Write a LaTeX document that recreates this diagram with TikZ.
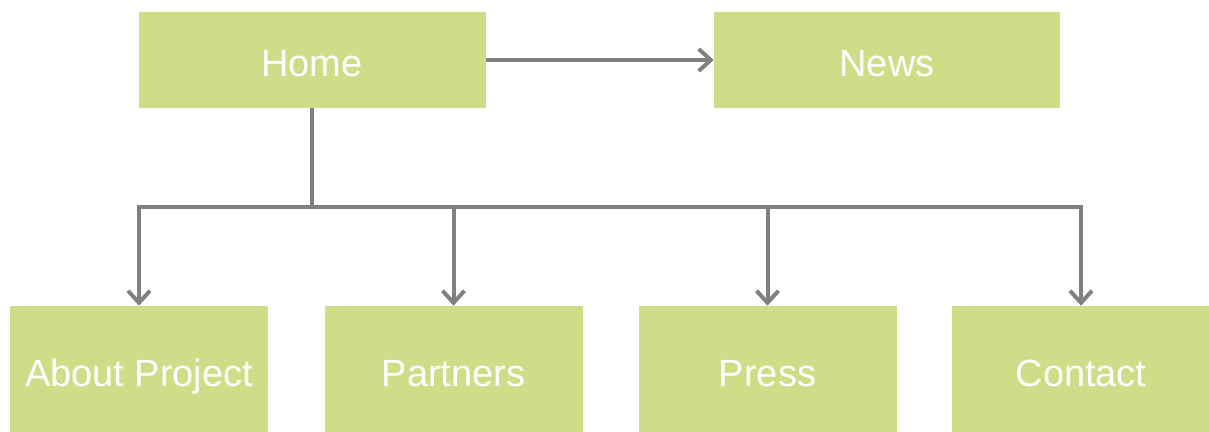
\documentclass[tikz,border=0pt]{standalone}
\usepackage{fontspec}
\setmainfont{Liberation Sans}
\usetikzlibrary{arrows.meta}
\definecolor{pagebox}{HTML}{CFDC88}
\definecolor{linkgray}{HTML}{808080}
\tikzset{>={Straight Barb[length=0.3cm, width=0.55cm, line width=0.1cm]}}
\tikzset{
  page/.style={fill=pagebox, draw=none, text=white, inner sep=0pt,
    font=\fontsize{27}{30}\selectfont, text height=0.85cm, text depth=0cm,
    minimum height=2.4cm},
  subpage/.style={page, minimum width=6.45cm, minimum height=3.15cm},
  link/.style={linkgray, line width=0.1cm}
}

\begin{document}
\begin{tikzpicture}
  \useasboundingbox (0, 0) rectangle (30.225, -10.8);
  \node[page, minimum width=8.675cm] (home) at (7.8, -1.5) {Home};
  \node[page, minimum width=8.65cm] (news) at (22.175, -1.5) {News};
  \node[subpage] (about) at (3.475, -9.225) {About Project};
  \node[subpage] (partners) at (11.3375, -9.225) {Partners};
  \node[subpage] (press) at (19.1875, -9.225) {Press};
  \node[subpage] (contact) at (27.025, -9.225) {Contact};
  \coordinate (bus) at (7.8, -5.175);
  \draw[link, ->] (home.east) -- (news.west);
  \draw[link] (home.south) -- (bus);
  \draw[link, line join=miter] ([yshift=-0.05cm]about.north |- bus) -- (about.north |- bus) -- (contact.north |- bus) -- ([yshift=-0.05cm]contact.north |- bus);
  \foreach \sub in {about, partners, press, contact}
    \draw[link, ->] (\sub.north |- bus) -- (\sub.north);
\end{tikzpicture}
\end{document}
